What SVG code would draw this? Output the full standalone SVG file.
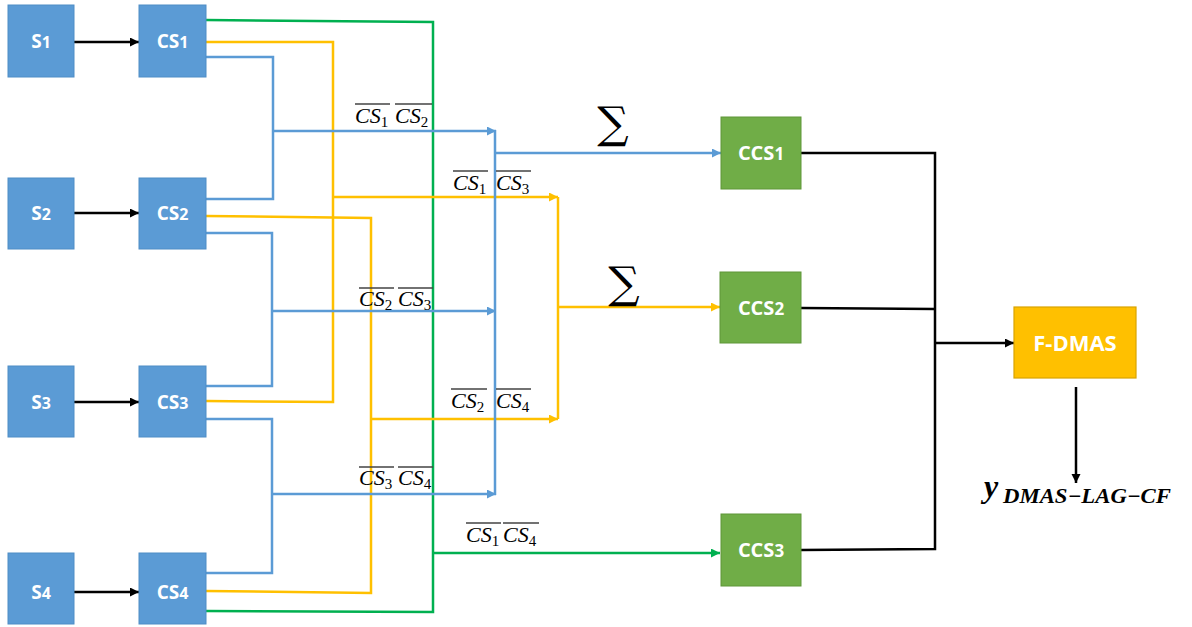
<svg xmlns="http://www.w3.org/2000/svg" width="1192" height="627" viewBox="0 0 1192 627">
<style>
.nb{fill:#5B9BD5;stroke:#4F8DC6;stroke-width:1}
.ng{fill:#70AD47;stroke:#5E9639;stroke-width:1}
.ny{fill:#FFC000;stroke:#D9A300;stroke-width:1.2}
.nt{font-family:"Open Sans","Liberation Sans",sans-serif;font-weight:bold;fill:#fff;text-anchor:middle}
.b{fill:none;stroke:#5B9BD5;stroke-width:2.5}
.y{fill:none;stroke:#FFC000;stroke-width:2.5}
.g{fill:none;stroke:#00B050;stroke-width:2.5}
.k{fill:none;stroke:#000;stroke-width:2.5}
.lab{font-family:"Liberation Serif",serif;font-size:22px;fill:#000}
.it{font-style:italic}
.ov{fill:none;stroke:#444;stroke-width:1.3}
</style>
<defs>
<marker id="ak" markerUnits="userSpaceOnUse" markerWidth="10" markerHeight="10" refX="9" refY="4.5" orient="auto"><path d="M0,0 L9,4.5 L0,9 z" fill="#000"/></marker>
<marker id="ab" markerUnits="userSpaceOnUse" markerWidth="10" markerHeight="10" refX="9" refY="4.5" orient="auto"><path d="M0,0 L9,4.5 L0,9 z" fill="#5B9BD5"/></marker>
<marker id="ay" markerUnits="userSpaceOnUse" markerWidth="10" markerHeight="10" refX="9" refY="4.5" orient="auto"><path d="M0,0 L9,4.5 L0,9 z" fill="#FFC000"/></marker>
<marker id="ag" markerUnits="userSpaceOnUse" markerWidth="10" markerHeight="10" refX="9" refY="4.5" orient="auto"><path d="M0,0 L9,4.5 L0,9 z" fill="#00B050"/></marker>
</defs>
<rect width="1192" height="627" fill="#fff"/>

<g id="connectors">
<path class="k" d="M74,42 H139" marker-end="url(#ak)"/>
<path class="k" d="M74,213 H139" marker-end="url(#ak)"/>
<path class="k" d="M74,402 H139" marker-end="url(#ak)"/>
<path class="k" d="M74,592 H139" marker-end="url(#ak)"/>

<path class="g" d="M206,20 L433,22 V612 L206,611"/>
<path class="g" d="M433,553 H720" marker-end="url(#ag)"/>

<path class="y" d="M206,42 H333 V402 L206,401"/>
<path class="y" d="M333,197 H558" marker-end="url(#ay)"/>
<path class="y" d="M206,216 L371,218 V593 L206,591"/>
<path class="y" d="M371,419 H558" marker-end="url(#ay)"/>
<path class="y" d="M558,197 V419"/>
<path class="y" d="M558,307 H720" marker-end="url(#ay)"/>

<path class="b" d="M206,57 H273 V199 H206"/>
<path class="b" d="M273,131 H496" marker-end="url(#ab)"/>
<path class="b" d="M206,233 H272 V386 H206"/>
<path class="b" d="M272,311 H496" marker-end="url(#ab)"/>
<path class="b" d="M206,419 H272 V573 H206"/>
<path class="b" d="M272,494 H496" marker-end="url(#ab)"/>
<path class="b" d="M495,130 V495"/>
<path class="b" d="M495,153 H721" marker-end="url(#ab)"/>

<path class="k" d="M801,153 H935 V549 L801,550"/>
<path class="k" d="M801,308 L935,309"/>
<path class="k" d="M935,343 H1014" marker-end="url(#ak)"/>
<path class="k" d="M1076,387 V483" marker-end="url(#ak)"/>
</g>

<g id="S1"><rect class="nb" x="8" y="5" width="66" height="72"/><text class="nt" x="41" y="48" font-size="19">S<tspan font-size="16">1</tspan></text></g>
<g id="S2"><rect class="nb" x="8" y="178" width="66" height="71"/><text class="nt" x="41" y="220" font-size="19">S<tspan font-size="16">2</tspan></text></g>
<g id="S3"><rect class="nb" x="8" y="366" width="66" height="71"/><text class="nt" x="41" y="409" font-size="19">S<tspan font-size="16">3</tspan></text></g>
<g id="S4"><rect class="nb" x="8" y="553" width="66" height="71"/><text class="nt" x="41" y="599" font-size="19">S<tspan font-size="16">4</tspan></text></g>

<g id="CS1"><rect class="nb" x="139" y="5" width="67" height="72"/><text class="nt" x="172.5" y="48" font-size="19">CS<tspan font-size="16">1</tspan></text></g>
<g id="CS2"><rect class="nb" x="139" y="178" width="67" height="71"/><text class="nt" x="172.5" y="220" font-size="19">CS<tspan font-size="16">2</tspan></text></g>
<g id="CS3"><rect class="nb" x="139" y="366" width="67" height="71"/><text class="nt" x="172.5" y="409" font-size="19">CS<tspan font-size="16">3</tspan></text></g>
<g id="CS4"><rect class="nb" x="139" y="553" width="67" height="71"/><text class="nt" x="172.5" y="599" font-size="19">CS<tspan font-size="16">4</tspan></text></g>

<g id="CCS1"><rect class="ng" x="721" y="117" width="80" height="72"/><text class="nt" x="761" y="160" font-size="20">CCS<tspan font-size="17">1</tspan></text></g>
<g id="CCS2"><rect class="ng" x="720" y="272" width="81" height="71"/><text class="nt" x="761" y="315" font-size="20">CCS<tspan font-size="17">2</tspan></text></g>
<g id="CCS3"><rect class="ng" x="721" y="514" width="80" height="72"/><text class="nt" x="761" y="557" font-size="20">CCS<tspan font-size="17">3</tspan></text></g>

<g id="F-DMAS"><rect class="ny" x="1014" y="307" width="122" height="71"/><text class="nt" x="1075" y="351" font-size="22">F-DMAS</text></g>

<g id="labels">
<text class="lab" x="355" y="123"><tspan class="it">CS</tspan><tspan font-size="15" dy="4">1</tspan></text>
<text class="lab" x="395" y="123"><tspan class="it">CS</tspan><tspan font-size="15" dy="4">2</tspan></text>
<path class="ov" d="M355,104 H390 M395,104 H432"/>

<text class="lab" x="453" y="190"><tspan class="it">CS</tspan><tspan font-size="15" dy="4">1</tspan></text>
<text class="lab" x="496" y="190"><tspan class="it">CS</tspan><tspan font-size="15" dy="4">3</tspan></text>
<path class="ov" d="M453,171 H488 M496,171 H531"/>

<text class="lab" x="359" y="306"><tspan class="it">CS</tspan><tspan font-size="15" dy="4">2</tspan></text>
<text class="lab" x="398" y="306"><tspan class="it">CS</tspan><tspan font-size="15" dy="4">3</tspan></text>
<path class="ov" d="M359,288 H394 M398,288 H433"/>

<text class="lab" x="451" y="408"><tspan class="it">CS</tspan><tspan font-size="15" dy="4">2</tspan></text>
<text class="lab" x="496" y="408"><tspan class="it">CS</tspan><tspan font-size="15" dy="4">4</tspan></text>
<path class="ov" d="M451,389 H487 M496,389 H531"/>

<text class="lab" x="359" y="485"><tspan class="it">CS</tspan><tspan font-size="15" dy="4">3</tspan></text>
<text class="lab" x="398" y="485"><tspan class="it">CS</tspan><tspan font-size="15" dy="4">4</tspan></text>
<path class="ov" d="M359,467 H394 M398,467 H433"/>

<text class="lab" x="466" y="542"><tspan class="it">CS</tspan><tspan font-size="15" dy="4">1</tspan></text>
<text class="lab" x="503" y="542"><tspan class="it">CS</tspan><tspan font-size="15" dy="4">4</tspan></text>
<path class="ov" d="M466,523 H501 M503,523 H539"/>

<text x="613" y="138" font-family="DejaVu Serif" font-size="44" text-anchor="middle" fill="#000">∑</text>
<text x="624" y="298" font-family="DejaVu Serif" font-size="44" text-anchor="middle" fill="#000">∑</text>

<text x="984" y="497" font-family="Liberation Serif" font-weight="bold" font-style="italic" font-size="32" fill="#000">y</text>
<text x="1003" y="503" font-family="Liberation Serif" font-weight="bold" font-style="italic" font-size="21" fill="#000" textLength="168" lengthAdjust="spacingAndGlyphs">DMAS−LAG−CF</text>
</g>
</svg>
